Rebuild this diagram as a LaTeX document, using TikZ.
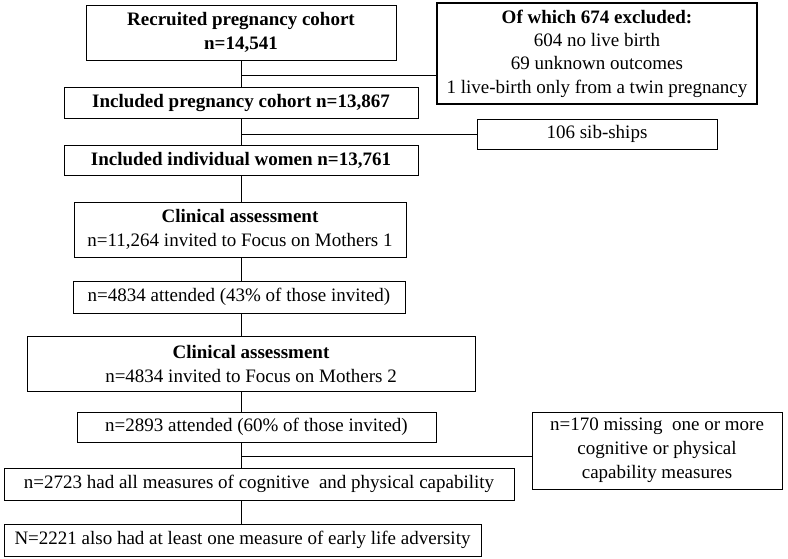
\documentclass[tikz,border=0pt]{standalone}
\usepackage{fontspec}
\setmainfont{Liberation Serif}
\begin{document}
\begin{tikzpicture}[x=1pt,y=-1pt,
  box/.style={draw,line width=0.9pt,inner sep=0pt,align=center,
    font=\fontsize{19}{24}\selectfont},
  link/.style={draw,line width=0.9pt}]
\useasboundingbox (0,0) rectangle (788,558);
\node[box,minimum width=310,minimum height=55] (b1) at (241,32.5)
  {\textbf{Recruited pregnancy cohort}\\\textbf{n=14,541}};
\node[box,line width=1.8pt,minimum width=320,minimum height=101,
  font=\fontsize{19}{23.3}\selectfont] (bx) at (597,53.5)
  {\textbf{Of which 674 excluded:}\\604 no live birth\\69 unknown outcomes\\1 live-birth only from a twin pregnancy};
\node[box,minimum width=354,minimum height=31] (b2) at (241,102.5)
  {\textbf{Included pregnancy cohort n=13,867}};
\node[box,minimum width=240,minimum height=30] (bs) at (597,134)
  {106 sib-ships};
\node[box,minimum width=354,minimum height=30] (b3) at (241,160.5)
  {\textbf{Included individual women n=13,761}};
\node[box,minimum width=332,minimum height=55] (b4) at (240,229.5)
  {\textbf{Clinical assessment}\\n=11,264 invited to Focus on Mothers 1};
\node[box,minimum width=332,minimum height=32] (b5) at (239,297)
  {n=4834 attended (43\% of those invited)};
\node[box,minimum width=448,minimum height=55] (b6) at (251,363.5)
  {\textbf{Clinical assessment}\\n=4834 invited to Focus on Mothers 2};
\node[box,minimum width=359,minimum height=30] (b7) at (256.5,427)
  {n=2893 attended (60\% of those invited)};
\node[box,minimum width=250,minimum height=77] (bm) at (657,450.5)
  {n=170 missing\ \ one or more\\cognitive or physical\\capability measures};
\node[box,minimum width=510,minimum height=32] (b8) at (259,484)
  {n=2723 had all measures of cognitive\ \ and physical capability};
\node[box,minimum width=477,minimum height=32] (b9) at (242.5,540)
  {N=2221 also had at least one measure of early life adversity};
\coordinate (tx) at (241,0);
\coordinate (j1) at (241,75);
\coordinate (j2) at (241,134);
\coordinate (j3) at (241,456);
\draw[link] (b1.south -| tx) -- (b2.north -| tx);
\draw[link] (b2.south -| tx) -- (b3.north -| tx);
\draw[link] (b3.south -| tx) -- (b4.north -| tx);
\draw[link] (b4.south -| tx) -- (b5.north -| tx);
\draw[link] (b5.south -| tx) -- (b6.north -| tx);
\draw[link] (b6.south -| tx) -- (b7.north -| tx);
\draw[link] (b7.south -| tx) -- (b8.north -| tx);
\draw[link] (b8.south -| tx) -- (b9.north -| tx);
\draw[link] (j1) -- (j1 -| bx.west);
\draw[link] (j2) -- (j2 -| bs.west);
\draw[link] (j3) -- (j3 -| bm.west);
\end{tikzpicture}
\end{document}
